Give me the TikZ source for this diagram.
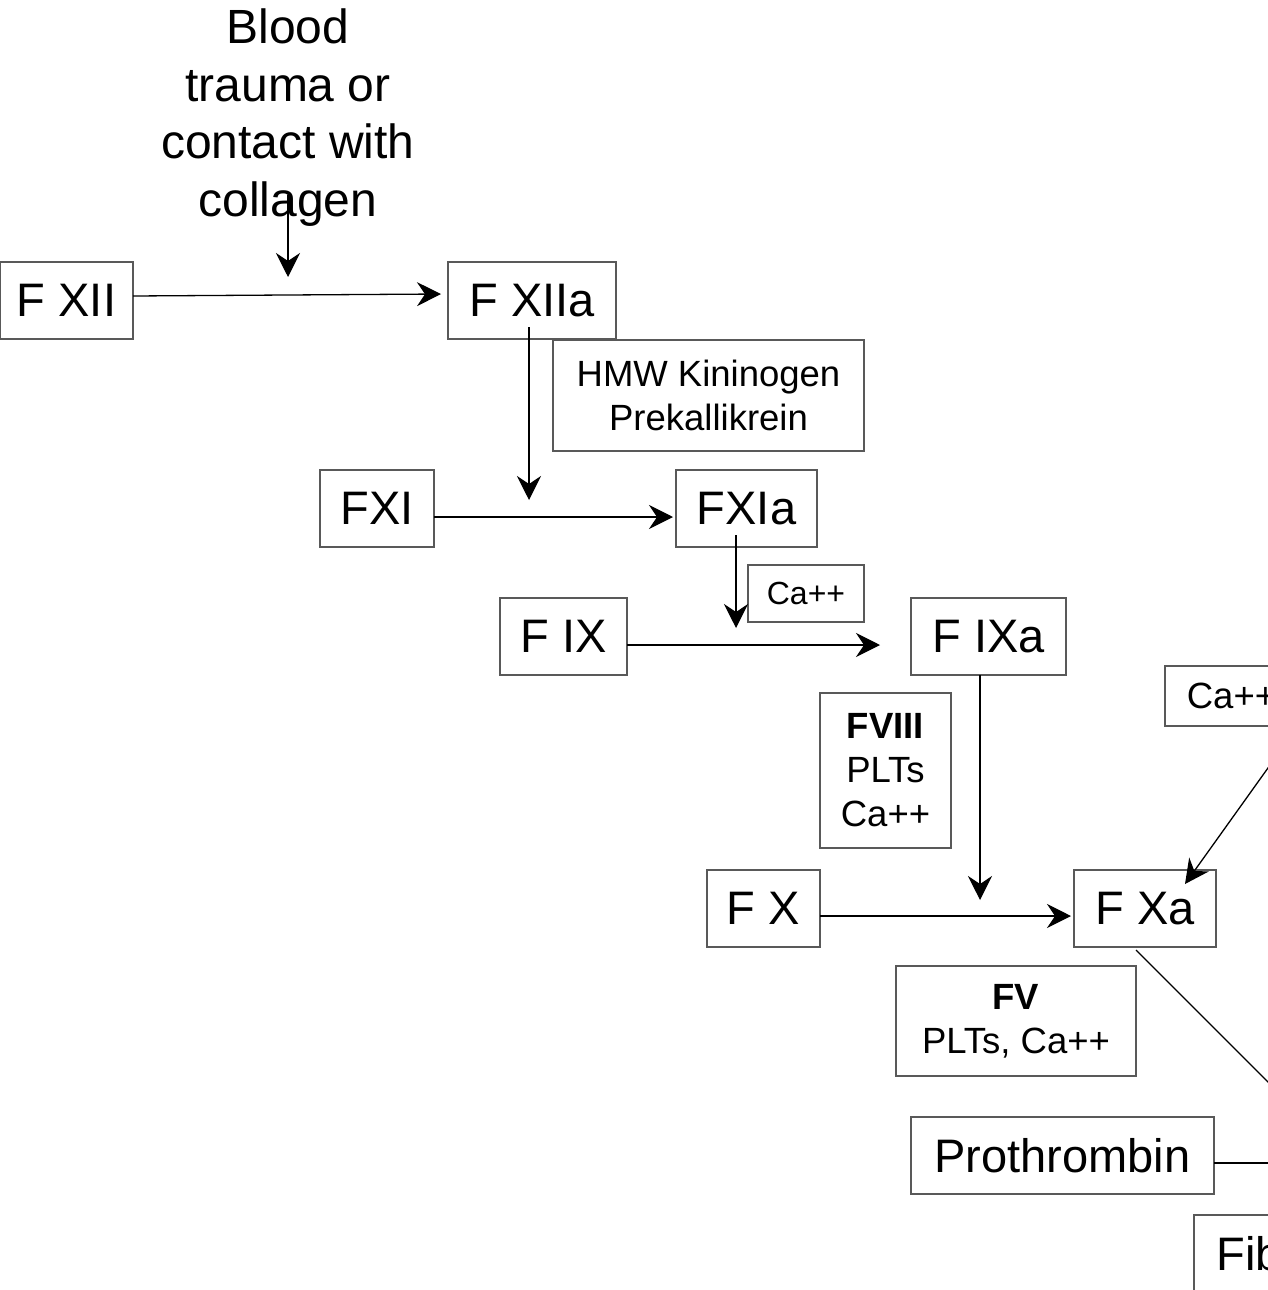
\documentclass[tikz,border=0pt]{standalone}
\usepackage{fontspec}
\setmainfont{Liberation Sans}
\usetikzlibrary{arrows.meta}
\begin{document}
\begin{tikzpicture}[x=1pt,y=-1pt,
  box/.style={draw=black!65, line width=1.4pt, inner sep=0pt, align=center},
  bigf/.style={font={\fontsize{47}{57.5}\selectfont}},
  medf/.style={font={\fontsize{36.5}{44}\selectfont}},
  smlf/.style={font={\fontsize{32}{38}\selectfont}},
  conn/.style={line width=1.3pt, black},
  arr/.style={conn, -{Stealth[length=24pt, width=24pt, inset=8pt]}}]
\useasboundingbox (0,0) rectangle (1268,1290);
\fill[white] (0,0) rectangle (1268,1290);
\clip (0,0) rectangle (1268,1290);
% text
\node[font={\fontsize{48}{57.5}\selectfont}, align=center, inner sep=0pt, anchor=north] (blood) at (288,9) {Blood\\trauma or\\contact with\\collagen};
% boxes
\node[box, bigf, minimum width=133pt, minimum height=77pt] (fxii) at (66.5,300.5) {F XII};
\node[box, bigf, minimum width=168pt, minimum height=77pt] (fxiia) at (532,300.5) {F XIIa};
\node[box, medf, minimum width=311pt, minimum height=111pt] (hmw) at (708.5,395.5) {HMW Kininogen\\Prekallikrein};
\node[box, bigf, minimum width=114pt, minimum height=77pt] (fxi) at (377,508.5) {FXI};
\node[box, bigf, minimum width=141pt, minimum height=77pt] (fxia) at (746.5,508.5) {FXIa};
\node[box, smlf, minimum width=116pt, minimum height=57pt] (caa) at (806,593.5) {Ca++};
\node[box, bigf, minimum width=127pt, minimum height=77pt] (fix) at (563.5,636.5) {F IX};
\node[box, bigf, minimum width=155pt, minimum height=77pt] (fixa) at (988.5,636.5) {F IXa};
\node[box, medf, minimum width=133pt, minimum height=60pt] (cab) at (1231.5,696) {Ca++};
\node[box, medf, minimum width=131pt, minimum height=155pt] (fviii) at (885.5,770.5) {\textbf{FVIII}\\PLTs\\Ca++};
\node[box, bigf, minimum width=113pt, minimum height=77pt] (fx) at (763.5,908.5) {F X};
\node[box, bigf, minimum width=142pt, minimum height=77pt] (fxa) at (1145,908.5) {F Xa};
\node[box, medf, minimum width=240pt, minimum height=110pt] (fv) at (1016,1021) {\textbf{FV}\\PLTs, Ca++};
\node[box, bigf, minimum width=303pt, minimum height=77pt] (proth) at (1062.5,1155.5) {Prothrombin};
\node[box, bigf, minimum width=267pt, minimum height=77pt, text depth=0pt] (fib) at (1327.5,1253.5) {Fibrinogen};
% connector points
\coordinate (b1) at (288,195);
\coordinate (b2) at (288,277);
\coordinate (x1) at (133,296);
\coordinate (x2) at (441,294);
\coordinate (v1) at (529,327);
\coordinate (v2) at (529,500);
\coordinate (h1) at (434,517);
\coordinate (h2) at (673,517);
\coordinate (w1) at (736,535);
\coordinate (w2) at (736,628);
\coordinate (i1) at (627,645);
\coordinate (i2) at (880,645);
\coordinate (j1) at (980,675);
\coordinate (j2) at (980,900);
\coordinate (k1) at (820,916);
\coordinate (k2) at (1071,916);
\coordinate (c1) at (1298,726);
\coordinate (c2) at (1185,884);
\coordinate (d1) at (1136,950);
\coordinate (d2) at (1320,1134);
\coordinate (p1) at (1214,1163);
\coordinate (p2) at (1320,1163);
% connectors
\draw[arr] (b1) -- (b2);
\draw[arr] (x1) -- (x2);
\draw[arr] (v1) -- (v2);
\draw[arr] (h1) -- (h2);
\draw[arr] (w1) -- (w2);
\draw[arr] (i1) -- (i2);
\draw[arr] (j1) -- (j2);
\draw[arr] (k1) -- (k2);
\draw[arr] (c1) -- (c2);
\draw[conn] (d1) -- (d2);
\draw[conn] (p1) -- (p2);
\end{tikzpicture}
\end{document}
